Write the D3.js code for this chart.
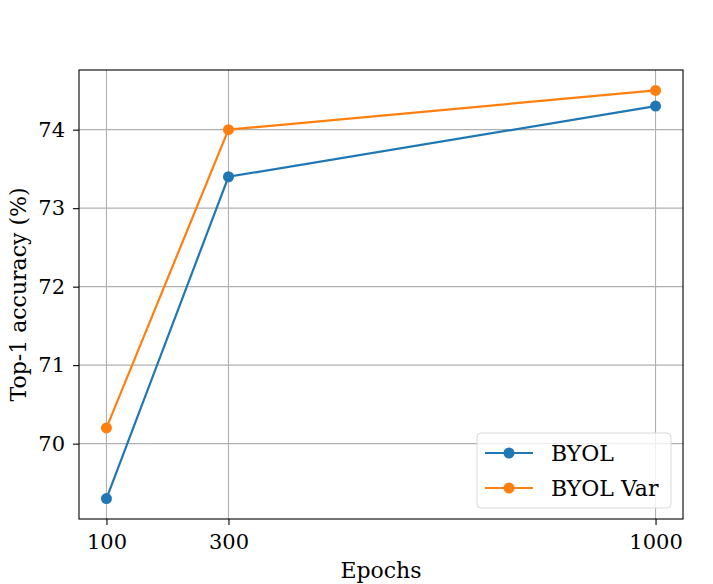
<!DOCTYPE html>
<html>
<head>
<meta charset="utf-8">
<script src="https://cdn.jsdelivr.net/npm/d3@7"></script>
<style>
body { margin: 0; background: #fff; }
text { font-family: "DejaVu Serif", serif; fill: #000; }
</style>
</head>
<body>
<div id="chart"></div>
<script>
// data
const epochs = [100, 300, 1000];
const byol = [69.3, 73.4, 74.3];
const byolVar = [70.2, 74.0, 74.5];
const seriesNames = ["BYOL", "BYOL Var"];
const colors = ["#1f77b4", "#ff7f0e"];
const yTicks = [70, 71, 72, 73, 74];

const W = 713, H = 584;
const m = {left: 79, right: 30, top: 70, bottom: 65};

const svg = d3.select('#chart').append('svg')
    .attr('width', W).attr('height', H);

const x = d3.scaleLinear().domain([55, 1045]).range([m.left, W - m.right]);
const y = d3.scaleLinear().domain([69.04, 74.76]).range([H - m.bottom, m.top]);

// grid
svg.append('g').selectAll('line').data(epochs).enter().append('line')
    .attr('x1', d => x(d)).attr('x2', d => x(d))
    .attr('y1', m.top).attr('y2', H - m.bottom)
    .attr('stroke', '#b0b0b0').attr('stroke-width', 1.1);
svg.append('g').selectAll('line').data(yTicks).enter().append('line')
    .attr('x1', m.left).attr('x2', W - m.right)
    .attr('y1', d => y(d)).attr('y2', d => y(d))
    .attr('stroke', '#b0b0b0').attr('stroke-width', 1.1);

// axes
const xAxis = svg.append('g')
    .attr('transform', `translate(0,${H - m.bottom})`)
    .call(d3.axisBottom(x).tickValues(epochs).tickFormat(d3.format('d'))
        .tickSize(6).tickPadding(9));
const yAxis = svg.append('g')
    .attr('transform', `translate(${m.left},0)`)
    .call(d3.axisLeft(y).tickValues(yTicks).tickFormat(d3.format('d'))
        .tickSize(6).tickPadding(8));
[xAxis, yAxis].forEach(a => {
    a.select('.domain').remove();
    a.selectAll('.tick line').attr('stroke', '#000').attr('stroke-width', 1.1);
    a.selectAll('.tick text').style('font-family', '"DejaVu Serif", serif')
        .style('font-size', '21px');
});

// frame
svg.append('rect')
    .attr('x', m.left).attr('y', m.top)
    .attr('width', W - m.right - m.left).attr('height', H - m.bottom - m.top)
    .attr('fill', 'none').attr('stroke', '#000').attr('stroke-width', 1.1);

// lines
const allSeries = [byol, byolVar];
const line = d3.line().x((d, i) => x(epochs[i])).y(d => y(d));
allSeries.forEach((s, k) => {
    svg.append('path').datum(s)
        .attr('d', line).attr('fill', 'none')
        .attr('stroke', colors[k]).attr('stroke-width', 2.2);
    svg.append('g').selectAll('circle').data(s).enter().append('circle')
        .attr('cx', (d, i) => x(epochs[i])).attr('cy', d => y(d))
        .attr('r', 5.5).attr('fill', colors[k]);
});

// labels
svg.append('text')
    .attr('x', (m.left + W - m.right) / 2).attr('y', H - 6)
    .attr('text-anchor', 'middle').style('font-size', '22px')
    .text('Epochs');
svg.append('text')
    .attr('transform', `translate(26,${(m.top + H - m.bottom) / 2}) rotate(-90)`)
    .attr('text-anchor', 'middle').style('font-size', '22px')
    .text('Top-1 accuracy (%)');

// legend
const lg = svg.append('g').attr('transform', 'translate(477,433)');
lg.append('rect').attr('width', 194).attr('height', 75).attr('rx', 4)
    .attr('fill', '#fff').attr('fill-opacity', 0.8)
    .attr('stroke', '#d9d9d9').attr('stroke-width', 1);
seriesNames.forEach((n, k) => {
    const yy = 20 + k * 35;
    lg.append('line').attr('x1', 8).attr('x2', 56).attr('y1', yy).attr('y2', yy)
        .attr('stroke', colors[k]).attr('stroke-width', 2.2);
    lg.append('circle').attr('cx', 32).attr('cy', yy).attr('r', 5.5).attr('fill', colors[k]);
    lg.append('text').attr('x', 74).attr('y', yy + 8)
        .style('font-size', '22px').text(n);
});
</script>
</body>
</html>
